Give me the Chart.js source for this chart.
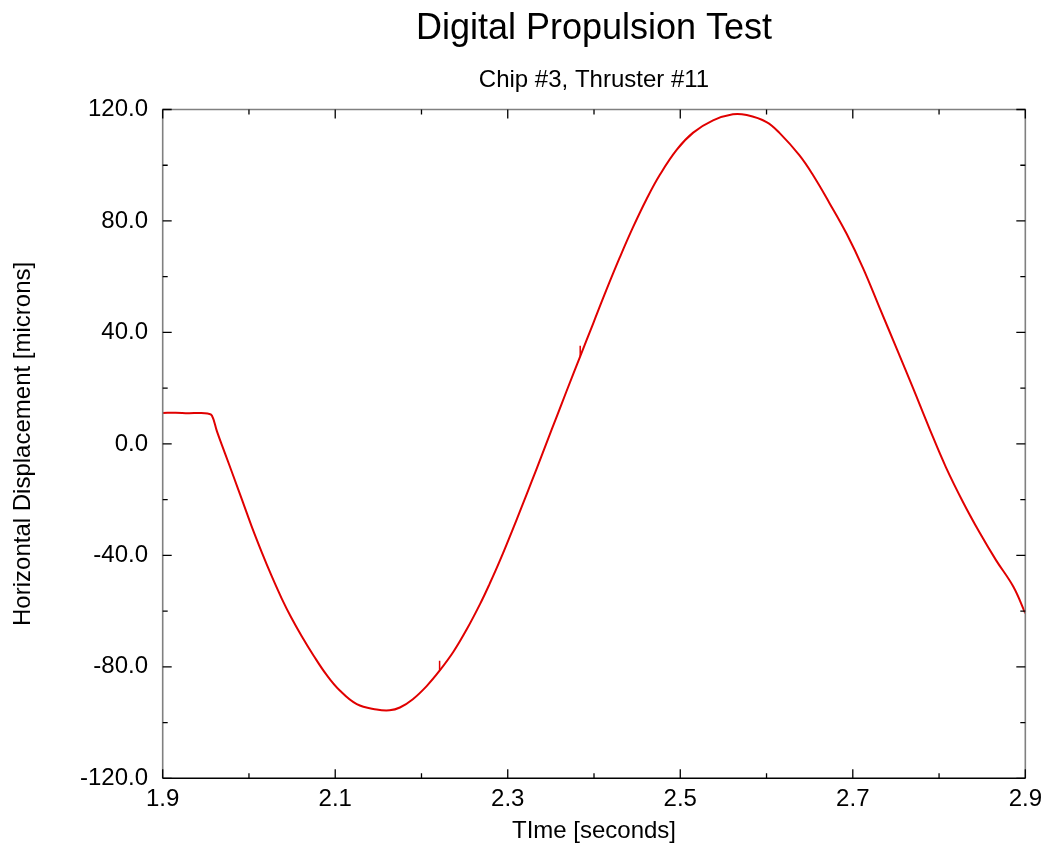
<!DOCTYPE html>
<html>
<head>
<meta charset="utf-8">
<script src="https://cdn.jsdelivr.net/npm/chart.js@4"></script>
<style>
  body { margin: 0; background: #fff; }
  canvas { display: block; }
</style>
</head>
<body>
<canvas id="propChart" width="1049" height="852"></canvas>
<script>
const timeValues = [
  1.900, 1.915, 1.930, 1.943, 1.952, 1.957, 1.963, 1.972, 1.982, 1.992,
  2.003, 2.015, 2.026, 2.038, 2.049, 2.061, 2.075, 2.090, 2.105, 2.125,
  2.148, 2.163, 2.175, 2.190, 2.206, 2.221, 2.237, 2.252, 2.268, 2.279,
  2.291, 2.310, 2.322, 2.333, 2.345, 2.357, 2.368, 2.384, 2.399, 2.414,
  2.430, 2.445, 2.461, 2.476, 2.496, 2.515, 2.538, 2.561, 2.577, 2.600,
  2.615, 2.638, 2.654, 2.673, 2.693, 2.712, 2.731, 2.751, 2.770, 2.789,
  2.808, 2.828, 2.847, 2.866, 2.886, 2.900
];
const dispValues = [
  11.1, 11.2, 11.0, 11.1, 10.9, 10.2, 4.4, -3.2, -11.6, -20.1,
  -29.5, -39.0, -47.2, -55.5, -62.3, -68.9, -76.0, -82.9, -88.4, -93.4,
  -95.3, -95.6, -94.6, -91.6, -86.9, -81.4, -74.6, -66.8, -57.4, -50.2,
  -41.8, -27.4, -18.0, -9.3, 0.4, 10.0, 18.8, 31.4, 43.2, 55.0,
  67.0, 77.6, 87.9, 96.4, 105.6, 111.7, 116.1, 118.3, 118.0, 115.5,
  111.6, 103.6, 96.4, 86.4, 75.3, 63.0, 48.9, 34.1, 19.9, 5.4,
  -8.4, -21.0, -31.8, -41.7, -51.2, -60.8
];
// two short glitches in the trace
const glitchTimes = [2.221, 2.384];
const glitchFrom = [-81.4, 31.4];
const glitchTo = [-77.8, 35.2];

const xTickLabels = [1.9, 2.1, 2.3, 2.5, 2.7, 2.9];
const xMinorTicks = [2.0, 2.2, 2.4, 2.6, 2.8];
const yTickLabels = [-120, -80, -40, 0, 40, 80, 120];
const yMinorTicks = [-100, -60, -20, 20, 60, 100];

const FONT = "'Liberation Sans', Arial, sans-serif";
const RED = '#e00000';

// box round the plot, with inward ticks on all four sides
const frameTicks = {
  id: 'frameTicks',
  afterDatasetsDraw(chart) {
    const { ctx, chartArea, scales } = chart;
    const { left, right, top, bottom } = chartArea;
    const xs = scales.x, ys = scales.y;
    ctx.save();
    ctx.lineWidth = 1.6;
    ctx.strokeStyle = '#808080';
    ctx.beginPath();
    ctx.moveTo(left, bottom);
    ctx.lineTo(left, top);
    ctx.lineTo(right, top);
    ctx.lineTo(right, bottom);
    ctx.stroke();
    ctx.strokeStyle = '#000';
    ctx.beginPath();
    ctx.moveTo(left, bottom);
    ctx.lineTo(right, bottom);
    ctx.stroke();

    ctx.lineWidth = 1.3;
    ctx.beginPath();
    const xTick = (v, len) => {
      const px = xs.getPixelForValue(v);
      ctx.moveTo(px, bottom); ctx.lineTo(px, bottom - len);
      ctx.moveTo(px, top); ctx.lineTo(px, top + len);
    };
    const yTick = (v, len) => {
      const py = ys.getPixelForValue(v);
      ctx.moveTo(left, py); ctx.lineTo(left + len, py);
      ctx.moveTo(right, py); ctx.lineTo(right - len, py);
    };
    xTickLabels.forEach(v => xTick(v, 9));
    xMinorTicks.forEach(v => xTick(v, 5));
    yTickLabels.forEach(v => yTick(v, 9));
    yMinorTicks.forEach(v => yTick(v, 5));
    ctx.stroke();
    ctx.restore();
  }
};

const datasets = [{
  data: timeValues.map((t, i) => ({ x: t, y: dispValues[i] })),
  borderColor: RED,
  borderWidth: 2,
  pointRadius: 0,
  tension: 0.4,
  fill: false
}];
glitchTimes.forEach((t, i) => {
  datasets.push({
    data: [{ x: t, y: glitchFrom[i] }, { x: t, y: glitchTo[i] }],
    borderColor: RED,
    borderWidth: 1.5,
    pointRadius: 0,
    tension: 0,
    fill: false
  });
});

const ctx = document.getElementById('propChart').getContext('2d');
new Chart(ctx, {
  type: 'line',
  data: { datasets },
  options: {
    responsive: false,
    animation: false,
    layout: { padding: { left: 0, right: 23.3, top: 0, bottom: 0 } },
    plugins: {
      legend: { display: false },
      tooltip: { enabled: false },
      title: {
        display: true,
        fullSize: false,
        text: 'Digital Propulsion Test',
        color: '#000',
        font: { family: FONT, size: 36, weight: 'normal' },
        padding: { top: 7, bottom: 15.4 }
      },
      subtitle: {
        display: true,
        fullSize: false,
        text: 'Chip #3, Thruster #11',
        color: '#000',
        font: { family: FONT, size: 24, weight: 'normal' },
        padding: { top: 0, bottom: 15.1 }
      }
    },
    scales: {
      x: {
        type: 'linear',
        min: 1.9,
        max: 2.9,
        grid: { display: false, drawTicks: false },
        border: { display: false },
        afterBuildTicks: s => { s.ticks = xTickLabels.map(v => ({ value: v })); },
        afterFit: s => { s.height = 73.7; },
        ticks: {
          color: '#000',
          font: { family: FONT, size: 24 },
          padding: 7,
          maxRotation: 0,
          autoSkip: false,
          callback: v => Number(v).toFixed(1)
        },
        title: {
          display: true,
          text: 'TIme [seconds]',
          color: '#000',
          font: { family: FONT, size: 24 },
          padding: { top: 0, bottom: 6 }
        }
      },
      y: {
        min: -120,
        max: 120,
        grid: { display: false, drawTicks: false },
        border: { display: false },
        afterBuildTicks: s => { s.ticks = yTickLabels.map(v => ({ value: v })); },
        afterFit: s => { s.width = 162.7; },
        ticks: {
          color: '#000',
          font: { family: FONT, size: 24 },
          padding: 14.7,
          autoSkip: false,
          callback: v => Number(v).toFixed(1)
        },
        title: {
          display: true,
          text: 'Horizontal Displacement [microns]',
          color: '#000',
          font: { family: FONT, size: 24 },
          padding: { top: 9, bottom: 0 }
        }
      }
    }
  },
  plugins: [frameTicks]
});
</script>
</body>
</html>
